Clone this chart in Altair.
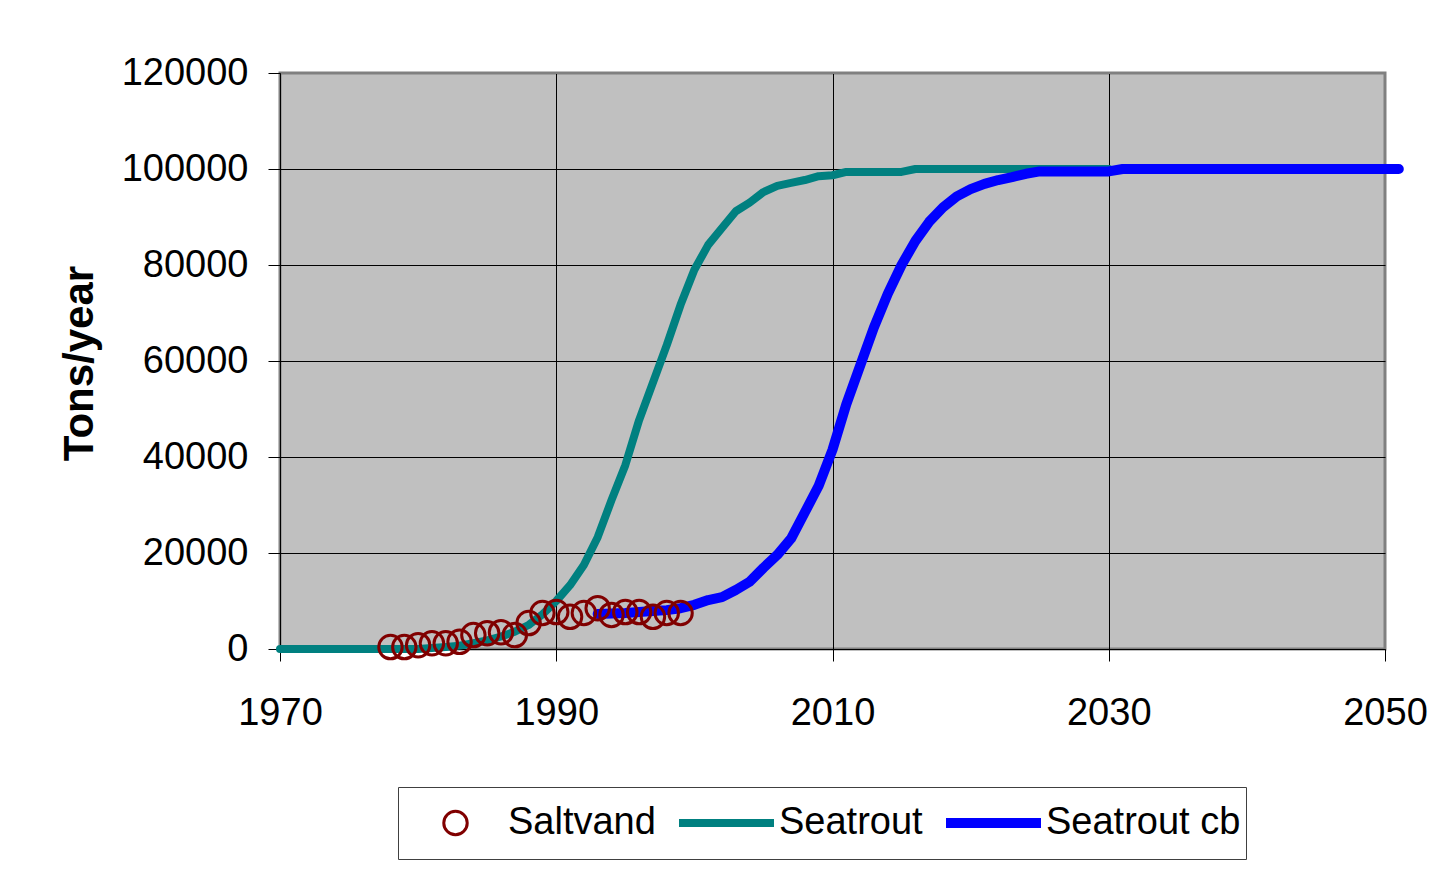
import altair as alt
import pandas as pd

series_names = ["Saltvand", "Seatrout", "Seatrout cb"]
series_colors = ["#800000", "#008080", "#0000FF"]
series_shapes = ["circle", "stroke", "stroke"]
series_widths = [3, 8, 10]
series_sizes = [550, 9025, 9025]

saltvand_years = [1978, 1979, 1980, 1981, 1982, 1983, 1984, 1985, 1986, 1987, 1988,
                  1989, 1990, 1991, 1992, 1993, 1994, 1995, 1996, 1997, 1998, 1999]
saltvand_values = [400, 400, 800, 1200, 1200, 1500, 2900, 3300, 3500, 2900, 5400,
                   7500, 7700, 6700, 7500, 8500, 7100, 7700, 7700, 6700, 7500, 7500]

seatrout_years = list(range(1970, 2031))
seatrout_values = [0, 0, 0, 0, 0, 0, 0, 0, 0, 0,
                   0, 200, 400, 700, 1200, 1800, 2600, 3600, 5000, 7200,
                   10000, 13300, 17500, 23300, 31000, 38300, 47700, 55500, 63300, 71700,
                   79000, 84200, 87700, 91200, 93000, 95200, 96500, 97100, 97700, 98500,
                   98700, 99400, 99400, 99400, 99400, 99400, 100000, 100000, 100000, 100000,
                   100000, 100000, 100000, 100000, 100000, 100000, 100000, 100000, 100000, 100000,
                   100000]

seatrout_cb_years = list(range(1993, 2052))
seatrout_cb_values = [7300, 7400, 7500, 7700, 7900, 8100, 8500,
                      9200, 10200, 10800, 12300, 14000, 16900, 19600, 23000, 28500, 34000,
                      41500, 51000, 59000, 67000, 74000, 80000, 85000, 89000, 92000, 94300,
                      95800, 96900, 97700, 98300, 99000, 99500, 99500, 99500, 99500, 99500,
                      99500, 100000, 100000, 100000, 100000, 100000, 100000, 100000, 100000, 100000,
                      100000, 100000, 100000, 100000, 100000, 100000, 100000, 100000, 100000, 100000,
                      100000, 100000]

x_ticks = [1970, 1990, 2010, 2030, 2050]
y_ticks = [0, 20000, 40000, 60000, 80000, 100000, 120000]

df_salt = pd.DataFrame({"year": saltvand_years, "value": saltvand_values, "series": "Saltvand"})
df_sea = pd.DataFrame({"year": seatrout_years, "value": seatrout_values, "series": "Seatrout"})
df_cb = pd.DataFrame({"year": seatrout_cb_years, "value": seatrout_cb_values, "series": "Seatrout cb"})

FONT = "Liberation Sans"

legend = alt.Legend(
    title=None,
    orient="none",
    legendX=118,
    legendY=714,
    direction="horizontal",
    columns=3,
    clipHeight=62,
    labelOffset=0,
    columnPadding=18,
    padding=5,
    strokeColor="#404040",
    fillColor="white",
    labelFont=FONT,
    labelFontSize=38,
    labelColor="black",
    labelLimit=400,
    symbolFillColor="transparent",
)

color = alt.Color("series:N",
                  scale=alt.Scale(domain=series_names, range=series_colors),
                  legend=legend)
shape = alt.Shape("series:N",
                  scale=alt.Scale(domain=series_names, range=series_shapes),
                  legend=legend)
size = alt.Size("series:N",
                scale=alt.Scale(type="ordinal", domain=series_names, range=series_sizes),
                legend=legend)
swidth = alt.StrokeWidth("series:N",
                         scale=alt.Scale(type="ordinal", domain=series_names, range=series_widths),
                         legend=legend)

x_enc = alt.X("year:Q",
              scale=alt.Scale(domain=[1970, 2050], nice=False, zero=False),
              axis=alt.Axis(values=x_ticks, format="d", title=None,
                            labelPadding=33, labelBaseline="top", labelFlush=False,
                            gridColor={"condition": {"test": "datum.value === 2050", "value": "#808080"}, "value": "black"}))
y_enc = alt.Y("value:Q",
              scale=alt.Scale(domain=[0, 120000], nice=False),
              axis=alt.Axis(values=y_ticks, format="d", title="Tons/year",
                            labelPadding=20, labelFlush=False,
                            titleFont=FONT, titleFontSize=42, titleFontWeight="bold",
                            titleColor="black", titleAngle=270, titleBaseline="alphabetic",
                            titleAlign="center", titleX=-188, titleY=290,
                            gridColor={"condition": {"test": "datum.value === 120000", "value": "#808080"}, "value": "black"}))

line_sea = alt.Chart(df_sea).mark_line(strokeCap="round", strokeJoin="round").encode(
    x=x_enc, y=y_enc, color=color, strokeWidth=swidth)
line_cb = alt.Chart(df_cb).mark_line(strokeCap="round", strokeJoin="round").encode(
    x=x_enc, y=y_enc, color=color, strokeWidth=swidth)
points = alt.Chart(df_salt).mark_point(filled=False, opacity=1).encode(
    x=x_enc, y=y_enc, color=color, shape=shape, size=size, strokeWidth=swidth)

chart = alt.layer(line_sea, line_cb, points).properties(
    width=1105,
    height=576,
    autosize=alt.AutoSizeParams(type="none"),
    padding={"left": 272, "top": 65, "right": 45, "bottom": 213},
    background="white",
).configure_view(
    fill="#C0C0C0", stroke="#808080", strokeWidth=3
).configure_axis(
    domainColor="black", domainWidth=1,
    gridColor="black", gridWidth=1,
    tickColor="black", tickSize=12, tickWidth=1,
    labelFont=FONT, labelFontSize=38, labelColor="black",
)

chart.save("out.html", embed_options={"renderer": "svg", "actions": False})
